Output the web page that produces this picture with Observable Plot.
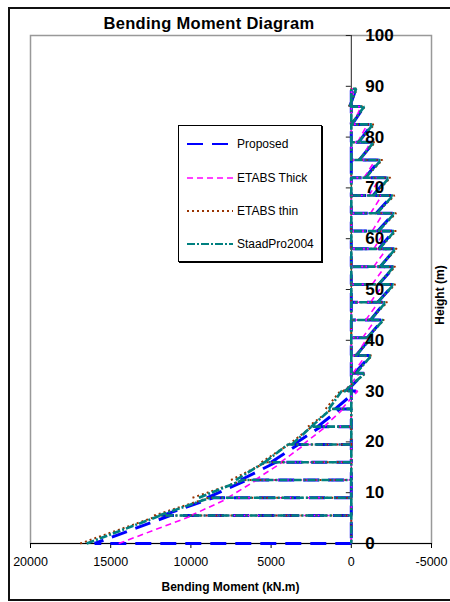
<!DOCTYPE html>
<html>
<head>
<meta charset="utf-8">
<script src="https://cdn.jsdelivr.net/npm/d3@7"></script>
<script src="https://cdn.jsdelivr.net/npm/@observablehq/plot@0.6"></script>
<style>
  html, body { margin: 0; padding: 0; background: #fff; }
  #wrap { position: relative; width: 450px; height: 602px; overflow: hidden; font-family: Arial, "Liberation Sans", sans-serif; }
  #border { position: absolute; left: 8px; top: 7px; width: 460px; height: 594px; border: 2px solid #111; box-sizing: border-box; }
  #title { position: absolute; left: 0; width: 418px; top: 14px; text-align: center; font-weight: bold; font-size: 16.5px; letter-spacing: 0.3px; }
  #xlabel { position: absolute; left: 30px; width: 401px; top: 580px; text-align: center; font-weight: bold; font-size: 12px; }
  #ylabel { position: absolute; left: 440px; top: 295px; transform: translate(-50%, -50%) rotate(-90deg); font-weight: bold; font-size: 12px; white-space: nowrap; }
  #legend { position: absolute; left: 178px; top: 125px; width: 144px; height: 137px; border: 1px solid #000; background: #fff; box-sizing: border-box; box-shadow: 1px 1px 0 #000; }
  .item { position: absolute; left: 8px; height: 16px; display: flex; align-items: center; font-size: 12px; }
  .item svg { margin-right: 4px; }
  #chart { position: absolute; left: 0; top: 0; }
</style>
</head>
<body>
<div id="wrap">
  <div id="chart"></div>
  <div id="border"></div>
  <div id="title">Bending Moment Diagram</div>
  <div id="xlabel">Bending Moment (kN.m)</div>
  <div id="ylabel">Height (m)</div>
  <div id="legend"></div>
</div>
<script>
// Floor levels (m)
const floors = [0, 5.5, 9, 12.5, 16, 19.5, 23, 26.5, 30, 33.5, 37, 40.5, 44, 47.5, 51, 54.5, 58, 61.5, 65, 68.5, 72, 75.5, 79, 82.5, 86, 89.5];

// Moment at bottom / top of each storey (kN.m)
const proposedBot = [16000, 11800, 9000, 6900, 5000, 3600, 2100, 1000, 300, -200, -300, -1000, -1200, -1650, -1700, -1800, -1700, -1650, -1550, -1350, -850, -500, -450, -50, 100];
const proposedTop = [11300, 8600, 6500, 4700, 3300, 1900, 700, -300, -800, -1200, -1200, -1950, -2100, -2650, -2700, -2750, -2650, -2650, -2550, -2300, -1800, -1400, -1300, -800, -300];

const thickBot = [14500, 10000, 7700, 6000, 4400, 3000, 1700, 600, 400, -100, -300, -700, -900, -1200, -1300, -1400, -1400, -1300, -1200, -1100, -800, -600, -400, -100, 100];
const thickTop = [9900, 7600, 5900, 4300, 2900, 1600, 500, -400, -500, -900, -1000, -1500, -1700, -2000, -2100, -2200, -2100, -2000, -1900, -1800, -1500, -1200, -1000, -600, -200];

const thinBot = [16900, 12300, 9900, 7500, 5600, 3900, 2700, 1600, 500, -250, -250, -950, -1150, -1600, -1650, -1750, -1700, -1650, -1550, -1350, -850, -450, -400, 50, 150];
const thinTop = [12000, 8900, 6700, 5300, 3900, 2450, 1200, 690, -900, -1300, -1300, -2050, -2250, -2750, -2750, -2850, -2800, -2800, -2700, -2450, -1950, -1500, -1450, -850, -350];

const staadBot = [16500, 12000, 9500, 7200, 5400, 3700, 2500, 1400, 400, -300, -300, -1000, -1200, -1650, -1700, -1800, -1750, -1700, -1600, -1400, -900, -500, -450, 0, 100];
const staadTop = [11900, 8800, 6750, 5400, 3950, 2490, 1250, 600, -850, -1250, -1250, -2000, -2150, -2650, -2650, -2750, -2700, -2700, -2600, -2350, -1850, -1400, -1350, -800, -300];

const seriesNames = ["Proposed", "ETABS Thick", "ETABS thin", "StaadPro2004"];
const xTicks = [20000, 15000, 10000, 5000, 0, -5000];
const yTicks = [0, 10, 20, 30, 40, 50, 60, 70, 80, 90, 100];

const styles = {
  "Proposed":     {stroke: "#0000ff", strokeWidth: 3,   dash: "16,9"},
  "ETABS Thick":  {stroke: "#ff00ff", strokeWidth: 1.6, dash: "6,4"},
  "ETABS thin":   {stroke: "#993300", strokeWidth: 2,   dash: "2,3"},
  "StaadPro2004": {stroke: "#008080", strokeWidth: 2.6, dash: "8,2,2,2"}
};
const seriesData = {
  "Proposed": [proposedBot, proposedTop],
  "ETABS Thick": [thickBot, thickTop],
  "ETABS thin": [thinBot, thinTop],
  "StaadPro2004": [staadBot, staadTop]
};

function buildPath(name) {
  const [bot, top] = seriesData[name];
  const rows = [];
  for (let i = 0; i < bot.length; i++) {
    if (i === 0 && name === "Proposed") rows.push({x: 0, y: floors[0]});
    rows.push({x: bot[i], y: floors[i]});
    rows.push({x: top[i], y: floors[i + 1]});
    rows.push({x: 0, y: floors[i + 1]});
    rows.push({x: 0, y: floors[i]});
    rows.push({x: NaN, y: NaN});
  }
  return rows;
}

const lineMarks = seriesNames.map(name => Plot.line(buildPath(name), {
  x: "x", y: "y",
  stroke: styles[name].stroke,
  strokeWidth: styles[name].strokeWidth,
  strokeDasharray: styles[name].dash,
  strokeLinecap: "butt",
  strokeLinejoin: "miter"
}));

const chart = Plot.plot({
  width: 450,
  height: 602,
  marginTop: 35,
  marginRight: 19,
  marginBottom: 59,
  marginLeft: 30,
  style: {background: "transparent", fontFamily: "Arial, 'Liberation Sans', sans-serif", fontSize: "12.5px", overflow: "visible"},
  x: {domain: [20000, -5000], axis: null},
  y: {domain: [0, 100], axis: null},
  marks: [
    Plot.frame({stroke: "#999", strokeWidth: 1.5}),
    Plot.ruleX([0], {y1: 0, y2: 100, stroke: "#222", strokeWidth: 1}),
    Plot.ruleY(yTicks.filter(d => d > 0), {y: d => d, x1: 0, x2: 0, insetLeft: -5, stroke: "#222"}),
    Plot.ruleY([0], {stroke: "#000", strokeWidth: 1.2}),
    Plot.axisX(xTicks, {anchor: "bottom", tickSize: 5, tickPadding: 9, tickFormat: d => String(d), label: null, fontSize: 12.5}),
    ...lineMarks,
    Plot.text(yTicks, {x: () => 0, y: d => d, text: d => String(d), dx: 14, textAnchor: "start", fontWeight: "bold", fontSize: 17, fill: "#000"})
  ]
});
document.getElementById("chart").appendChild(chart);

// Legend
const legend = document.getElementById("legend");
const legendTops = [10, 44, 77, 110];
seriesNames.forEach((name, i) => {
  const s = styles[name];
  const div = document.createElement("div");
  div.className = "item";
  div.style.top = legendTops[i] + "px";
  div.innerHTML = `<svg width="46" height="16"><line x1="0" y1="8" x2="46" y2="8" stroke="${s.stroke}" stroke-width="${Math.min(s.strokeWidth, 2.2)}" stroke-dasharray="${s.dash}"/></svg><span>${name}</span>`;
  legend.appendChild(div);
});
</script>
</body>
</html>
